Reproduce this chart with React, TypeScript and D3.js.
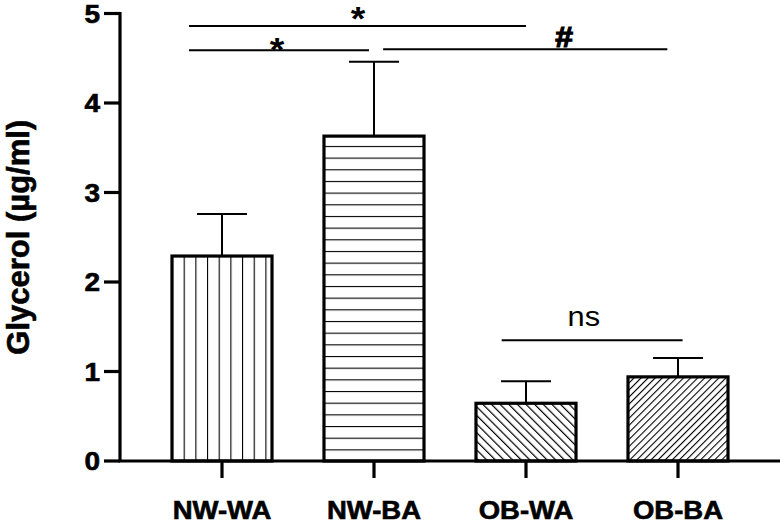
import React from "react";
import * as d3 from "d3";

const categories = ["NW-WA", "NW-BA", "OB-WA", "OB-BA"];
const means = [2.29, 3.63, 0.645, 0.94];
const sds = [0.47, 0.83, 0.245, 0.21];
const yTicks = [0, 1, 2, 3, 4, 5];
const patterns = ["vert", "horiz", "back", "fwd"];

// significance brackets: from/to in category-index units, level in data units
const bracketFrom = [-0.217, -0.217, 1.06, 1.84];
const bracketTo = [2.0, 0.967, 2.93, 3.03];
const bracketLevel = [4.86, 4.59, 4.6, 1.35];
const bracketLabel = ["*", "*", "#", "ns"];
const labelPosX = [0.895, 0.362, 2.25, 2.38];
const labelBaseLevel = [4.812, 4.47, 4.626, 1.508];

const W = 784;
const H = 524;

export default function App() {
  const y = d3.scaleLinear().domain([0, 5]).range([461, 13.5]);
  const x = d3
    .scaleBand<string>()
    .domain(categories)
    .range([120, 780])
    .paddingInner(0.342)
    .paddingOuter(0.342);
  const bw = x.bandwidth();
  const xi = d3
    .scaleLinear()
    .domain([0, categories.length - 1])
    .range([x(categories[0])! + bw / 2, x(categories[categories.length - 1])! + bw / 2]);
  const font = "'Liberation Sans', Arial, Helvetica, sans-serif";
  const stretch = 1.1;
  const heavy = { stroke: "#000", strokeWidth: 0.6 };

  const labelSize = (lab: string) => (lab === "ns" ? 28 : lab === "#" ? 29 : 34);

  return (
    <svg
      width={W}
      height={H}
      style={{ position: "absolute", left: 0, top: 0, background: "#fff" }}
      fontFamily={font}
    >
      <defs>
        <pattern id="vert" patternUnits="userSpaceOnUse" x={x(categories[0])} y={0} width={11.67} height={10}>
          <line x1={0} x2={0} y1={0} y2={10} stroke="#000" strokeWidth={2.2} />
        </pattern>
        <pattern id="horiz" patternUnits="userSpaceOnUse" x={0} y={y(0)} width={10} height={11.67}>
          <line x1={0} x2={10} y1={0} y2={0} stroke="#000" strokeWidth={2.2} />
        </pattern>
        <pattern id="back" patternUnits="userSpaceOnUse" width={6.1} height={10} patternTransform="rotate(-45)">
          <line x1={0} x2={0} y1={0} y2={10} stroke="#000" strokeWidth={2.4} />
        </pattern>
        <pattern id="fwd" patternUnits="userSpaceOnUse" width={5.0} height={10} patternTransform="rotate(45)">
          <line x1={0} x2={0} y1={0} y2={10} stroke="#000" strokeWidth={2.2} />
        </pattern>
      </defs>
      <rect width={W} height={H} fill="#fff" />

      {/* bars */}
      {categories.map((c, i) => {
        const x0 = x(c)!;
        const top = y(means[i]);
        const cx = x0 + bw / 2;
        const et = y(means[i] + sds[i]);
        return (
          <g key={c}>
            <line x1={cx} x2={cx} y1={top} y2={et} stroke="#000" strokeWidth={2} />
            <line x1={cx - 25} x2={cx + 25} y1={et} y2={et} stroke="#000" strokeWidth={2} />
            <rect x={x0} y={top} width={bw} height={y(0) - top} fill="#fff" />
            <rect
              x={x0}
              y={top}
              width={bw}
              height={y(0) - top}
              fill={`url(#${patterns[i]})`}
              stroke="#000"
              strokeWidth={3.2}
            />
          </g>
        );
      })}

      {/* y axis */}
      <line x1={120} x2={120} y1={y(5) - 1.5} y2={y(0)} stroke="#000" strokeWidth={3.2} />
      {yTicks.map((t) => (
        <g key={t}>
          <line x1={104} x2={120} y1={y(t)} y2={y(t)} stroke="#000" strokeWidth={3.2} />
          <text
            transform={`translate(100,${y(t) + 9}) scale(1.12,1)`}
            textAnchor="end"
            fontSize={25}
            fontWeight="bold"
            {...heavy}
          >
            {t}
          </text>
        </g>
      ))}
      <text
        transform={`translate(29,${(y(0) + y(5)) / 2}) rotate(-90)`}
        textAnchor="middle"
        fontSize={31}
        fontWeight="bold"
        {...heavy}
      >
        Glycerol (µg/ml)
      </text>

      {/* x axis */}
      <line x1={118.4} x2={780} y1={y(0)} y2={y(0)} stroke="#000" strokeWidth={3.2} />
      {categories.map((c) => {
        const cx = x(c)! + bw / 2;
        return (
          <g key={c}>
            <line x1={cx} x2={cx} y1={y(0)} y2={y(0) + 17} stroke="#000" strokeWidth={3.2} />
            <text
              transform={`translate(${cx},519) scale(${stretch},1)`}
              textAnchor="middle"
              fontSize={25}
              fontWeight="bold"
              {...heavy}
            >
              {c}
            </text>
          </g>
        );
      })}

      {/* significance brackets */}
      {bracketLabel.map((lab, i) => (
        <g key={i}>
          <line
            x1={xi(bracketFrom[i])}
            x2={xi(bracketTo[i])}
            y1={y(bracketLevel[i])}
            y2={y(bracketLevel[i])}
            stroke="#000"
            strokeWidth={2}
          />
          <text
            transform={`translate(${xi(labelPosX[i])},${y(labelBaseLevel[i])}) scale(${stretch},1)`}
            textAnchor="middle"
            fontSize={labelSize(lab)}
            fontWeight={lab === "ns" ? "normal" : "bold"}
            stroke={lab === "#" ? "#000" : "none"}
            strokeWidth={lab === "#" ? 1.2 : 0}
          >
            {lab}
          </text>
        </g>
      ))}
    </svg>
  );
}
